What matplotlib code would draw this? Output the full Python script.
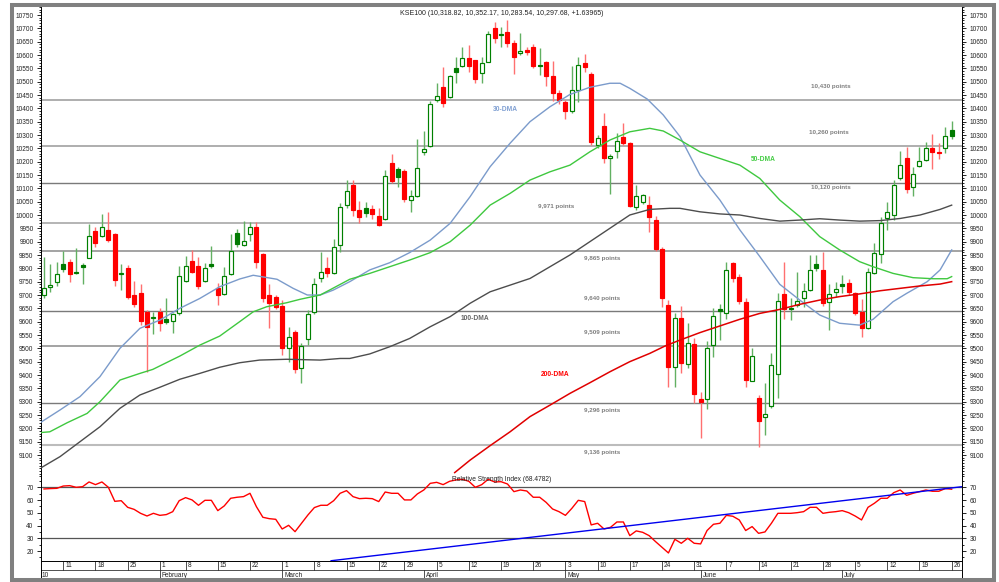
import numpy as np
import pandas as pd
import matplotlib
matplotlib.use("Agg")
import matplotlib.pyplot as plt
from matplotlib.patches import Rectangle
from matplotlib.ticker import MultipleLocator, FixedLocator

plt.rcParams['font.family'] = ['Liberation Sans', 'DejaVu Sans']

# ---------------- data ----------------
holidays = ['2010-02-05', '2010-03-23']
dates = pd.bdate_range('2010-01-06', '2010-07-26')
dates = dates[~dates.isin(pd.to_datetime(holidays))]

opens = [9700, 9729, 9750, 9816, 9822, 9784, 9811, 9840, 9941, 9921,
         9944, 9930, 9779, 9800, 9700, 9706, 9635, 9615, 9637, 9609,
         9604, 9631, 9754, 9827, 9809, 9754, 9816, 9728, 9702, 9777,
         9931, 9887, 9927, 9955, 9854, 9700, 9692, 9659, 9500, 9560,
         9425, 9534, 9636, 9762, 9801, 9784, 9887, 10037, 10112, 10019,
         10027, 10024, 9996, 9984, 10194, 10172, 10166, 10056, 10071, 10235,
         10260, 10431, 10481, 10441, 10550, 10559, 10587, 10581, 10531, 10575,
         10700, 10678, 10685, 10644, 10606, 10620, 10629, 10563, 10575, 10521,
         10459, 10425, 10391, 10469, 10571, 10529, 10262, 10335, 10212, 10241,
         10291, 10271, 10031, 10050, 10037, 9981, 9871, 9662, 9429, 9612,
         9441, 9516, 9309, 9309, 9512, 9647, 9631, 9819, 9769, 9675,
         9379, 9312, 9241, 9284, 9404, 9704, 9651, 9662, 9690, 9719,
         9816, 9794, 9675, 9712, 9742, 9744, 9706, 9637, 9575, 9784,
         9854, 9990, 10000, 10137, 10212, 10104, 10184, 10206, 10252, 10237,
         10250, 10318.82]
highs = [9843, 9816, 9822, 9864, 9834, 9876, 9820, 9968, 9954, 10004,
         10012, 9932, 9815, 9812, 9752, 9741, 9645, 9635, 9652, 9688,
         9634, 9808, 9847, 9869, 9844, 9819, 9884, 9745, 9806, 9929,
         9946, 9979, 9974, 9974, 9858, 9740, 9700, 9682, 9581, 9570,
         9519, 9645, 9762, 9861, 9844, 9910, 10044, 10131, 10131, 10052,
         10050, 10037, 10025, 10169, 10229, 10179, 10172, 10094, 10284, 10315,
         10429, 10494, 10556, 10525, 10594, 10629, 10637, 10583, 10594, 10691,
         10723, 10705, 10731, 10656, 10681, 10630, 10641, 10625, 10579, 10579,
         10468, 10430, 10559, 10591, 10604, 10535, 10300, 10381, 10230, 10306,
         10344, 10275, 10112, 10080, 10071, 9996, 9880, 9680, 9631, 9659,
         9594, 9537, 9337, 9529, 9650, 9666, 9825, 9825, 9780, 9690,
         9500, 9325, 9371, 9481, 9709, 9825, 9687, 9787, 9744, 9850,
         9850, 9862, 9740, 9750, 9775, 9760, 9712, 9684, 9800, 9894,
         9994, 10050, 10131, 10241, 10256, 10179, 10254, 10275, 10302, 10269,
         10329, 10352.17]
lows = [9690, 9712, 9735, 9788, 9747, 9778, 9741, 9838, 9881, 9918,
        9900, 9735, 9720, 9685, 9656, 9588, 9412, 9554, 9566, 9590,
        9556, 9625, 9750, 9783, 9722, 9750, 9800, 9662, 9700, 9775,
        9881, 9884, 9904, 9802, 9675, 9575, 9648, 9475, 9450, 9406,
        9369, 9512, 9628, 9750, 9769, 9780, 9862, 10025, 9996, 9971,
        9994, 9984, 9959, 9980, 10119, 10106, 10050, 10012, 10068, 10225,
        10256, 10425, 10404, 10438, 10494, 10556, 10537, 10496, 10496, 10572,
        10646, 10631, 10631, 10529, 10600, 10600, 10550, 10525, 10484, 10429,
        10416, 10359, 10384, 10425, 10537, 10262, 10250, 10194, 10077, 10212,
        10262, 10030, 10019, 10040, 9937, 9865, 9656, 9356, 9356, 9409,
        9425, 9296, 9162, 9271, 9466, 9531, 9610, 9748, 9668, 9354,
        9376, 9129, 9175, 9275, 9312, 9609, 9606, 9655, 9656, 9715,
        9790, 9659, 9569, 9691, 9706, 9700, 9625, 9544, 9573, 9780,
        9819, 9944, 9981, 10131, 10081, 10071, 10180, 10203, 10171, 10209,
        10234, 10283.54]
closes = [9728, 9737, 9779, 9797, 9780, 9782, 9804, 9922, 9896, 9954,
          9906, 9756, 9784, 9691, 9666, 9604, 9581, 9617, 9594, 9598,
          9627, 9770, 9809, 9787, 9732, 9800, 9809, 9700, 9770, 9866,
          9891, 9902, 9955, 9825, 9690, 9669, 9656, 9500, 9544, 9421,
          9509, 9627, 9741, 9786, 9784, 9881, 10029, 10090, 10019, 9994,
          10009, 10002, 9964, 10146, 10129, 10141, 10059, 10071, 10177, 10247,
          10416, 10447, 10421, 10522, 10535, 10587, 10559, 10509, 10571, 10678,
          10662, 10674, 10644, 10594, 10616, 10612, 10559, 10560, 10521, 10459,
          10431, 10391, 10469, 10562, 10556, 10272, 10287, 10212, 10221, 10279,
          10271, 10034, 10070, 10075, 9994, 9871, 9690, 9429, 9612, 9444,
          9521, 9329, 9297, 9500, 9621, 9641, 9794, 9763, 9678, 9381,
          9471, 9229, 9252, 9437, 9677, 9647, 9648, 9678, 9716, 9794,
          9800, 9669, 9704, 9721, 9735, 9712, 9631, 9575, 9787, 9859,
          9971, 10010, 10112, 10187, 10096, 10154, 10202, 10250, 10235, 10231,
          10296, 10297.68]

# moving averages (trading-day index, value)
ma30_idx = [-0.6, 2.5, 5.6, 8.7, 11.8, 14.9, 18.0, 21.1, 24.2, 27.3, 30.4, 32.5, 36.2,
            38.7, 40.9, 42.9, 44.9, 47.5, 50.6, 53.7, 56.8, 60.0, 63.1, 66.2, 69.3,
            72.4, 75.5, 78.6, 81.7, 84.8, 87.9, 89.5, 91.0, 93.7, 96.2, 98.8, 101.9,
            105.0, 108.1, 111.2, 114.3, 117.4, 120.5, 123.6, 126.7, 128.8, 131.9,
            134.0, 137.2, 139.2, 141.0]
ma30_val = [9221, 9269, 9319, 9394, 9500, 9575, 9606, 9650, 9687, 9731, 9760, 9774, 9759,
            9725, 9700, 9700, 9718, 9750, 9794, 9821, 9859, 9906, 9969, 10069, 10181,
            10269, 10350, 10406, 10452, 10479, 10494, 10494, 10475, 10435, 10375, 10294, 10150,
            10056, 9944, 9844, 9740, 9681, 9625, 9594, 9587, 9609, 9675,
            9706, 9750, 9794, 9869]
ma50_idx = [-0.6, 0.9, 3.6, 6.7, 8.7, 11.8, 14.9, 16.9, 21.1, 24.2, 27.3, 30.4, 32.5, 34.6,
            37.7, 39.8, 42.9, 44.4, 47.5, 50.6, 56.8, 60.0, 63.1, 66.2, 69.3, 72.4, 75.5,
            78.6, 81.7, 84.8, 87.9, 91.0, 94.1, 96.2, 98.8, 101.9, 105.0, 108.1, 111.2,
            114.3, 117.4, 120.5, 123.6, 126.7, 128.8, 131.9, 135.0, 138.1, 140.3, 141.0]
ma50_val = [9184, 9187, 9221, 9256, 9300, 9381, 9406, 9421, 9471, 9512, 9546, 9600, 9637, 9656,
            9671, 9684, 9700, 9719, 9759, 9781, 9831, 9859, 9900, 9962, 10037, 10081, 10131,
            10162, 10187, 10237, 10281, 10312, 10325, 10315, 10281, 10237, 10212, 10187, 10137,
            10056, 9994, 9919, 9869, 9825, 9806, 9781, 9765, 9761, 9761, 9769]
ma100_idx = [-0.6, 2.5, 5.6, 8.7, 11.8, 14.9, 18.0, 21.1, 24.2, 27.3, 30.4, 33.5, 37.7, 42.9,
             46.0, 47.5, 50.6, 53.7, 56.8, 60.0, 63.1, 66.2, 69.3, 72.4, 75.5, 78.6, 81.7,
             84.8, 87.9, 91.0, 94.1, 97.2, 98.8, 101.9, 105.0, 108.1, 111.2, 114.3, 117.4,
             120.5, 123.6, 126.7, 129.9, 133.0, 136.1, 139.2, 141.0]
ma100_val = [9050, 9094, 9150, 9206, 9275, 9325, 9354, 9384, 9406, 9429, 9446, 9456, 9459, 9456,
             9462, 9462, 9479, 9506, 9537, 9581, 9619, 9669, 9712, 9737, 9762, 9806, 9850,
             9900, 9950, 10000, 10021, 10025, 10025, 10012, 10004, 10000, 9987, 9977, 9981,
             9986, 9981, 9977, 9979, 9987, 10000, 10021, 10037]
ma200_idx = [63.8, 66.2, 69.3, 72.4, 75.5, 78.6, 81.7, 84.8, 87.9, 91.0, 94.1, 96.5, 98.8,
             101.9, 105.0, 108.1, 111.2, 114.3, 117.4, 120.5, 123.6, 126.7, 129.9, 133.0,
             136.1, 139.2, 141.0]
ma200_val = [9034, 9081, 9135, 9187, 9244, 9287, 9331, 9371, 9412, 9450, 9481, 9509, 9531,
             9559, 9584, 9609, 9631, 9646, 9665, 9681, 9694, 9704, 9716, 9725,
             9734, 9741, 9750]

rsi = [68.7, 69.0, 69.2, 71.0, 71.3, 70.0, 70.5, 74.2, 72.1, 74.2,
       70.0, 59.0, 59.5, 54.3, 52.7, 49.6, 47.5, 49.6, 48.0, 48.6,
       50.9, 59.5, 61.9, 60.1, 55.9, 59.8, 59.8, 51.7, 55.4, 61.4,
       62.2, 62.7, 65.3, 54.8, 46.5, 45.4, 44.9, 37.3, 40.2, 35.2,
       41.8, 48.3, 54.1, 55.9, 55.9, 59.5, 65.3, 67.4, 62.7, 61.1,
       61.4, 61.1, 58.8, 66.3, 65.3, 65.3, 60.1, 60.1, 64.8, 67.9,
       73.1, 73.9, 72.1, 74.7, 75.8, 76.3, 74.7, 70.0, 72.1, 76.3,
       74.2, 74.4, 72.6, 66.6, 67.9, 67.1, 62.2, 62.2, 58.2, 53.0,
       50.9, 48.0, 53.5, 59.8, 58.8, 40.5, 41.8, 37.3, 38.6, 42.8,
       42.8, 32.1, 35.8, 34.7, 32.1, 27.4, 22.9, 18.5, 29.2, 26.1,
       30.0, 26.1, 25.6, 36.1, 41.0, 41.8, 48.0, 47.3, 44.4, 36.1,
       39.2, 33.9, 35.0, 41.8, 49.6, 49.6, 49.6, 50.1, 50.9, 54.3,
       54.3, 49.6, 50.4, 50.9, 51.7, 50.1, 47.5, 44.4, 54.3, 57.5,
       61.4, 61.4, 65.8, 67.9, 63.7, 65.3, 66.6, 67.9, 66.9, 66.9,
       69.0, 68.5]
rsi_trend_idx = [44.6, 142.65]
rsi_trend_val = [12.4, 70.5]
rsi_levels = [70, 30]

levels = [10430, 10260, 10120, 9971, 9865, 9640, 9509, 9296, 9136]
level_labels = ['10,430 points', '10,260 points', '10,120 points', '9,971 points',
                '9,865 points', '9,640 points', '9,509 points', '9,296 points', '9,136 points']
level_label_pos = [(122.3, 10481), (122.0, 10309), (122.2, 10102), (79.5, 10031),
                   (86.7, 9837), (86.7, 9687), (86.7, 9560), (86.7, 9266), (86.7, 9109)]
title = 'KSE100 (10,318.82, 10,352.17, 10,283.54, 10,297.68, +1.63965)'
rsi_title = 'Relative Strength Index (68.4782)'
year_label = '10'

# ---------------- layout ----------------
W, H = 999, 582
fig = plt.figure(figsize=(W / 100, H / 100), dpi=100)
fig.patch.set_facecolor('white')

def fx(px):
    return px / W

def fy(py):
    return 1 - py / H

L, R = 40.7, 962.3
ax = fig.add_axes([fx(L), fy(478), fx(R - L), (478 - 7) / H])
ax_r = fig.add_axes([fx(L), fy(560.7), fx(R - L), (560.7 - 478) / H])
ax_d = fig.add_axes([fx(L), fy(580), fx(R - L), (580 - 560.7) / H])

n = len(closes)
x = np.arange(n)
xlim = (-0.51, 142.65)
FS = 4.7
TXT = '#222222'

# ---------------- price panel ----------------
level_colors = ['#a8a8a8', '#a8a8a8', '#7a7a7a', '#b4b4b4', '#8a8a8a',
                '#7a7a7a', '#8a8a8a', '#7a7a7a', '#bcbcbc']
level_lw = [1.3, 1.3, 1.0, 1.4, 1.1, 1.0, 1.1, 1.0, 1.5]
for lv, col, lw in zip(levels, level_colors, level_lw):
    ax.axhline(lv, color=col, lw=lw, zorder=1)

o = np.array(opens, float); h = np.array(highs, float)
l = np.array(lows, float); c = np.array(closes, float)
prev = np.r_[c[0] - 1, c[:-1]]
upday = c >= prev
hollow = c > o
wick_cols = ['#62b062' if u else '#ff7070' for u in upday]
ax.vlines(x, l, h, colors=wick_cols, lw=1.0, zorder=2)
faces, edges = [], []
for u, hl in zip(upday, hollow):
    if hl:
        faces.append('white'); edges.append('#008000' if u else '#ff0000')
    elif u:
        faces.append('#007a00'); edges.append('#007a00')
    else:
        faces.append('#ff0000'); edges.append('#ff0000')
body_h = np.maximum(np.abs(c - o), 2.5)
body_b = np.minimum(o, c)
ax.bar(x, body_h, bottom=body_b, width=0.62, color=faces, edgecolor=edges,
       linewidth=0.85, zorder=3)

ax.plot(ma30_idx, ma30_val, color='#7b9bcb', lw=1.0, zorder=4)
ax.plot(ma50_idx, ma50_val, color='#3fc83f', lw=1.0, zorder=4)
ax.plot(ma100_idx, ma100_val, color='#4d4d4d', lw=1.0, zorder=4)
ax.plot(ma200_idx, ma200_val, color='#e00000', lw=1.1, zorder=4)

for (tx, ty), s in zip(level_label_pos, level_labels):
    ax.text(tx, ty, s, ha='center', va='center', fontsize=4.5, color='#7f7f7f',
            fontweight='bold', zorder=5)
ax.text(71.6, 10396, '30-DMA', ha='center', va='center', fontsize=4.8,
        color='#7f9fd2', fontweight='bold', zorder=5)
ax.text(111.7, 10209, '50-DMA', ha='center', va='center', fontsize=4.8,
        color='#44cc44', fontweight='bold', zorder=5)
ax.text(66.9, 9612, '100-DMA', ha='center', va='center', fontsize=4.8,
        color='#666666', fontweight='bold', zorder=5)
ax.text(79.4, 9403, '200-DMA', ha='center', va='center', fontsize=4.8,
        color='#ff0000', fontweight='bold', zorder=5)

ax.set_xlim(*xlim)
ax.set_ylim(9013.75, 10780)
ax.yaxis.set_major_locator(FixedLocator(np.arange(9100, 10751, 50)))
ax.yaxis.set_minor_locator(MultipleLocator(10))
ax.yaxis.set_major_formatter(matplotlib.ticker.FuncFormatter(lambda v, p: '%d' % v))
ax.set_xticks([])
ax.tick_params(axis='y', which='both', left=True, right=True, labelleft=True,
               labelright=True, direction='out', labelsize=FS, labelcolor=TXT,
               width=0.6, pad=2.5)
ax.tick_params(axis='y', which='major', length=2.6)
ax.tick_params(axis='y', which='minor', length=1.4)
for s in ['top', 'bottom']:
    ax.spines[s].set_visible(False)
for s in ['left', 'right']:
    ax.spines[s].set_linewidth(0.7)

# ---------------- RSI panel ----------------
for lv in rsi_levels:
    ax_r.axhline(lv, color='#555555', lw=0.9, zorder=1)
ax_r.plot(x, rsi, color='#ff0000', lw=1.0, zorder=3)
ax_r.plot(rsi_trend_idx, rsi_trend_val, color='#0000ee', lw=1.0, zorder=4)
ax_r.text(71.1, 76.2, rsi_title, ha='center', va='center', fontsize=4.8,
          color=TXT, zorder=6)
ax_r.set_xlim(*xlim)
ax_r.set_ylim(12.43, 77.3)
ax_r.yaxis.set_major_locator(FixedLocator(np.arange(20, 71, 10)))
ax_r.yaxis.set_minor_locator(MultipleLocator(5))
ax_r.set_xticks([])
ax_r.tick_params(axis='y', which='both', left=True, right=True, labelleft=True,
                 labelright=True, direction='out', labelsize=FS, labelcolor=TXT,
                 width=0.6, pad=2.5)
ax_r.tick_params(axis='y', which='major', length=2.6)
ax_r.tick_params(axis='y', which='minor', length=1.4)
ax_r.patch.set_alpha(0)
for s in ['top', 'bottom']:
    ax_r.spines[s].set_visible(False)
for s in ['left', 'right']:
    ax_r.spines[s].set_linewidth(0.7)

# ---------------- date axis ----------------
ax_d.set_xlim(*xlim)
ax_d.set_ylim(0, 1)
ax_d.set_xticks([]); ax_d.set_yticks([])
ax_d.spines['bottom'].set_visible(False)
for s in ['left', 'right', 'top']:
    ax_d.spines[s].set_linewidth(0.7)
ax_d.axhline(0.5, color='#333333', lw=0.6)
week_idx = [i for i in range(1, n) if dates[i].isocalendar()[1] != dates[i - 1].isocalendar()[1]]
month_idx = [i for i in range(1, n) if dates[i].month != dates[i - 1].month]
for i in week_idx:
    ax_d.plot([i, i], [0.5, 1], color='#333333', lw=0.6)
    ax_d.text(i + 0.3, 0.74, str(dates[i].day), ha='left', va='center',
              fontsize=FS, color=TXT)
for i in month_idx:
    ax_d.plot([i, i], [0, 0.5], color='#333333', lw=0.6)
    ax_d.text(i + 0.3, 0.24, dates[i].strftime('%B'), ha='left', va='center',
              fontsize=FS, color=TXT)
ax_d.text(-0.35, 0.24, year_label, ha='left', va='center', fontsize=FS, color=TXT)

# ---------------- title & frame ----------------
fig.text(fx(502), fy(13.2), title, ha='center', va='center', fontsize=5.0, color=TXT)
fig.patches.append(Rectangle((fx(11.8), fy(580.3)), fx(994.3 - 11.8), (580.3 - 4.6) / H,
                             transform=fig.transFigure, fill=False,
                             edgecolor='#808080', lw=2.9, zorder=10))

fig.savefig('out.png', dpi=100, facecolor='white')
